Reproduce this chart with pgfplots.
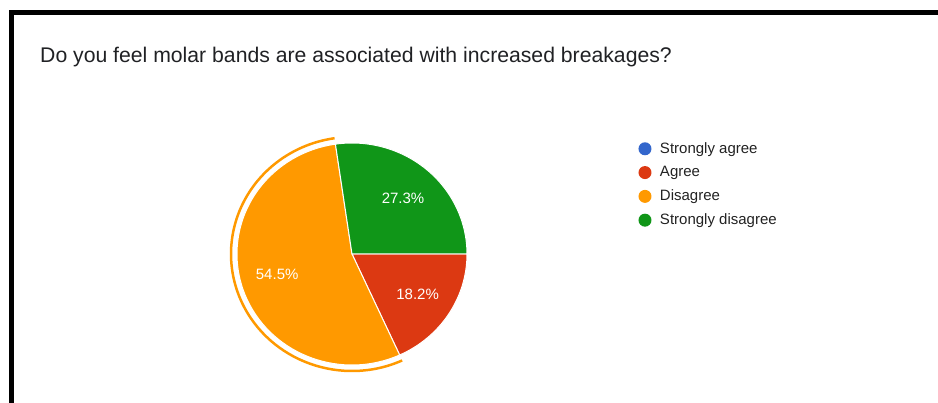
\documentclass[border=0pt]{standalone}
\usepackage{fontspec}
\setmainfont{Liberation Sans}
\usepackage{pgfplots}
\usepackage{pgfplotstable}
\pgfplotsset{compat=1.18}
\definecolor{gblue}{HTML}{3366CC}
\definecolor{gred}{HTML}{DC3912}
\definecolor{gorange}{HTML}{FF9900}
\definecolor{ggreen}{HTML}{109618}
\definecolor{titlegray}{HTML}{202124}
\definecolor{leggray}{HTML}{222222}

\pgfplotstableread[col sep=comma]{
answer,value
Strongly agree,0
Agree,18.2
Disagree,54.5
Strongly disagree,27.3
}\piedata

\begin{document}
\begin{tikzpicture}
\pgfplotstablegetelem{1}{value}\of\piedata \let\vA\pgfplotsretval
\pgfplotstablegetelem{2}{value}\of\piedata \let\vD\pgfplotsretval
\pgfplotstablegetelem{3}{value}\of\piedata \let\vS\pgfplotsretval
\pgfmathsetmacro\aA{-3.6*\vA}
\pgfmathsetmacro\aD{\aA-3.6*\vD}
\pgfmathsetmacro\aS{\aD-3.6*\vS}
\pgfmathsetmacro\mA{\aA/2}
\pgfmathsetmacro\mD{(\aA+\aD)/2}
\pgfmathsetmacro\mS{(\aD+\aS)/2}
\path[use as bounding box] (0,0) rectangle (938pt,403pt);
\begin{axis}[
  at={(0pt,0pt)}, anchor=south west,
  scale only axis, width=938pt, height=403pt,
  xmin=0, xmax=938, ymin=0, ymax=403,
  hide axis, clip=false,
  legend image code/.code={\fill[#1, draw=none] (6.5pt,0pt) circle (6.5pt);
     \path[use as bounding box, fill=none, draw=none] (0pt,-6.5pt) rectangle (21.5pt,6.5pt);},
  legend style={
    at={(0.6807,0.6476)}, anchor=north west,
    draw=none, fill=none, inner sep=0pt, outer sep=0pt,
    font=\fontsize{15}{18}\selectfont, text=leggray,
    row sep=10.3pt, column sep=0pt,
    nodes={inner sep=0pt, text height=11pt, text depth=2.5pt},
  },
  legend cell align=left,
]
\addlegendimage{fill=gblue, draw=none}
\addlegendentry{Strongly agree}
\addlegendimage{fill=gred, draw=none}
\addlegendentry{Agree}
\addlegendimage{fill=gorange, draw=none}
\addlegendentry{Disagree}
\addlegendimage{fill=ggreen, draw=none}
\addlegendentry{Strongly disagree}

% frame
\draw[black, line width=4.5pt, line join=miter] (axis cs:11.5,0) -- (axis cs:11.5,390.5) -- (axis cs:938,390.5);
% title
\node[anchor=base west, font=\fontsize{21.2}{25}\selectfont, text=titlegray, inner sep=0pt]
  at (axis cs:40,340) {Do you feel molar bands are associated with increased breakages?};

% slices
\fill[gred, draw=white, line width=1pt] (axis cs:352,149) -- ++(0:115pt and 111pt)
  arc[start angle=0, end angle=\aA, x radius=115pt, y radius=111pt] -- cycle;
\fill[gorange, draw=white, line width=1pt] (axis cs:352,149) -- ++(\aA:115pt and 111pt)
  arc[start angle=\aA, end angle=\aD, x radius=115pt, y radius=111pt] -- cycle;
\fill[ggreen, draw=white, line width=1pt] (axis cs:352,149) -- ++(\aD:115pt and 111pt)
  arc[start angle=\aD, end angle=\aS, x radius=115pt, y radius=111pt] -- cycle;
% highlight ring
\draw[gorange, line width=2.5pt] (axis cs:352,149) ++(\aA:121pt and 117pt)
  arc[start angle=\aA, end angle=\aD, x radius=121pt, y radius=117pt];
% percent labels
\path (axis cs:352,149) ++(\mA:78pt and 74pt) node[text=white, font=\fontsize{15}{18}\selectfont] {\vA\%};
\path (axis cs:352,149) ++(\mD:78pt and 74pt) node[text=white, font=\fontsize{15}{18}\selectfont] {\vD\%};
\path (axis cs:352,149) ++(\mS:78pt and 74pt) node[text=white, font=\fontsize{15}{18}\selectfont] {\vS\%};
\end{axis}
\end{tikzpicture}
\end{document}
